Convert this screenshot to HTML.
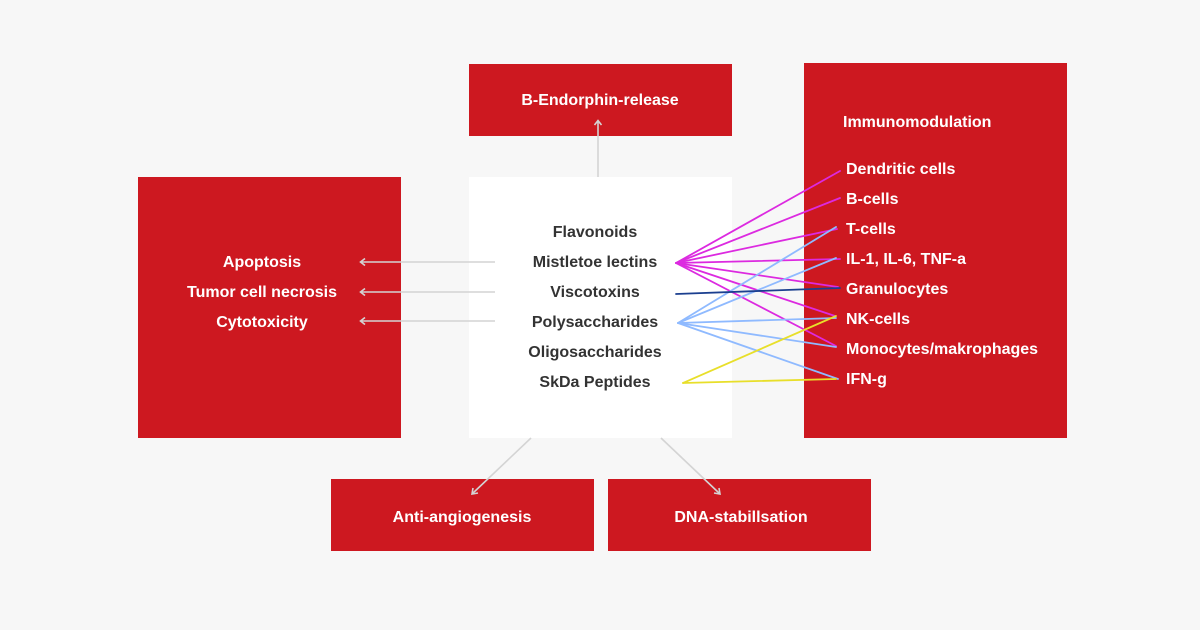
<!DOCTYPE html>
<html>
<head>
<meta charset="utf-8">
<style>
  html,body{margin:0;padding:0;background:#f7f7f7;}
  svg{display:block;}
  text{font-family:"Liberation Sans",Arial,sans-serif;font-weight:bold;font-size:16px;}
</style>
</head>
<body>
<svg width="1200" height="630" viewBox="0 0 1200 630" xmlns="http://www.w3.org/2000/svg">
  <rect x="0" y="0" width="1200" height="630" fill="#f7f7f7"/>

  <!-- boxes -->
  <rect x="469" y="64" width="263" height="72" fill="#cd1820"/>
  <rect x="138" y="177" width="263" height="261" fill="#cd1820"/>
  <rect x="469" y="177" width="263" height="261" fill="#ffffff"/>
  <rect x="804" y="63" width="263" height="375" fill="#cd1820"/>
  <rect x="331" y="479" width="263" height="72" fill="#cd1820"/>
  <rect x="608" y="479" width="263" height="72" fill="#cd1820"/>

  <!-- gray arrows -->
  <g stroke="#d4d4d4" stroke-width="1.6" fill="none">
    <line x1="598" y1="177" x2="598" y2="121"/>
    <polyline points="594.5,125 598,120.5 601.5,125"/>

    <line x1="495" y1="262" x2="361" y2="262"/>
    <polyline points="365,258.5 360.5,262 365,265.5"/>
    <line x1="495" y1="292" x2="361" y2="292"/>
    <polyline points="365,288.5 360.5,292 365,295.5"/>
    <line x1="495" y1="321" x2="361" y2="321"/>
    <polyline points="365,317.5 360.5,321 365,324.5"/>

    <line x1="531" y1="438" x2="472.5" y2="493.5"/>
    <polyline points="473,488 472,494 478,493"/>
    <line x1="661" y1="438" x2="719.5" y2="493.5"/>
    <polyline points="714,493 720,494 719,488"/>
  </g>

  <!-- colored connectors -->
  <g stroke="#dc2ae0" stroke-width="1.8" fill="none" stroke-linecap="round">
    <line x1="676" y1="263" x2="840" y2="171"/>
    <line x1="676" y1="263" x2="840" y2="198"/>
    <line x1="676" y1="263" x2="837" y2="229"/>
    <line x1="676" y1="263" x2="840" y2="259"/>
    <line x1="676" y1="263" x2="838" y2="287"/>
    <line x1="676" y1="263" x2="835" y2="316"/>
    <line x1="676" y1="263" x2="836" y2="346"/>
  </g>
  <g stroke="#8fbaff" stroke-width="1.8" fill="none" stroke-linecap="round">
    <line x1="678" y1="323" x2="836" y2="227"/>
    <line x1="678" y1="323" x2="836" y2="258"/>
    <line x1="678" y1="323" x2="836" y2="318"/>
    <line x1="678" y1="323" x2="836" y2="347"/>
    <line x1="678" y1="323" x2="838" y2="379"/>
  </g>
  <g stroke="#1b3f8f" stroke-width="1.8" fill="none" stroke-linecap="round">
    <line x1="676" y1="294" x2="840" y2="288"/>
  </g>
  <g stroke="#e8df2a" stroke-width="1.8" fill="none" stroke-linecap="round">
    <line x1="683" y1="383" x2="836" y2="316"/>
    <line x1="683" y1="383" x2="836" y2="379"/>
  </g>

  <!-- top box text -->
  <text x="600" y="105" fill="#ffffff" text-anchor="middle">B-Endorphin-release</text>

  <!-- center text -->
  <g fill="#333333" text-anchor="middle">
    <text x="595" y="237">Flavonoids</text>
    <text x="595" y="267">Mistletoe lectins</text>
    <text x="595" y="297">Viscotoxins</text>
    <text x="595" y="327">Polysaccharides</text>
    <text x="595" y="357">Oligosaccharides</text>
    <text x="595" y="387">SkDa Peptides</text>
  </g>

  <!-- left text -->
  <g fill="#ffffff" text-anchor="middle">
    <text x="262" y="267">Apoptosis</text>
    <text x="262" y="297">Tumor cell necrosis</text>
    <text x="262" y="327">Cytotoxicity</text>
  </g>

  <!-- right text -->
  <g fill="#ffffff">
    <text x="843" y="127">Immunomodulation</text>
    <text x="846" y="174">Dendritic cells</text>
    <text x="846" y="204">B-cells</text>
    <text x="846" y="234">T-cells</text>
    <text x="846" y="264">IL-1, IL-6, TNF-a</text>
    <text x="846" y="294">Granulocytes</text>
    <text x="846" y="324">NK-cells</text>
    <text x="846" y="354">Monocytes/makrophages</text>
    <text x="846" y="384">IFN-g</text>
  </g>

  <!-- bottom text -->
  <g fill="#ffffff" text-anchor="middle">
    <text x="462" y="522">Anti-angiogenesis</text>
    <text x="741" y="522">DNA-stabillsation</text>
  </g>
</svg>
</body>
</html>
